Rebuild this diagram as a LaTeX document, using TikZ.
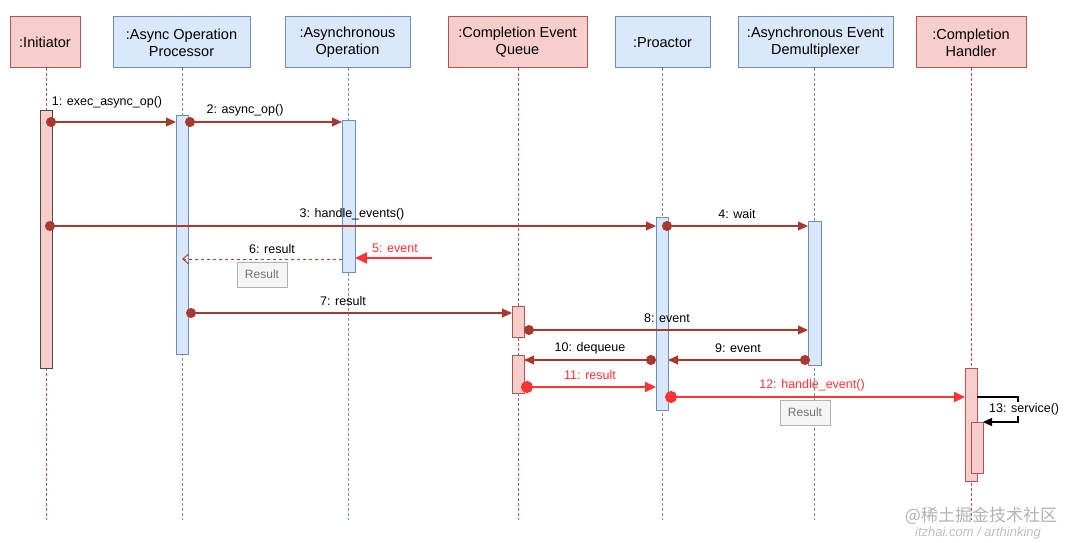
\documentclass[tikz,border=0pt]{standalone}
\usepackage{fontspec}
\setmainfont{Liberation Sans}
\newfontfamily\cjk{Noto Sans CJK SC}
\usetikzlibrary{arrows.meta}
\definecolor{rf}{HTML}{F8CECC}\definecolor{rs}{HTML}{B85450}
\definecolor{bf}{HTML}{DAE8FC}\definecolor{bs}{HTML}{6C8EBF}
\definecolor{dr}{HTML}{A8392E}\definecolor{br}{HTML}{FF3333}
\begin{document}
\begin{tikzpicture}[x=1pt,y=-1pt,
 hd/.style={draw,line width=1pt,minimum height=51pt,align=center,font=\fontsize{14.5}{17}\selectfont,inner sep=1pt},
 rh/.style={hd,fill=rf,draw=rs},bh/.style={hd,fill=bf,draw=bs},
 ll/.style={dashed,dash pattern=on 3pt off 2pt,line width=0.8pt},
 act/.style={draw,line width=0.9pt,minimum width=12pt,inner sep=0pt},
 ra/.style={act,fill=rf,draw=rs},ba/.style={act,fill=bf,draw=bs},
 msg/.style={draw=dr,line width=1.1pt,{Circle[length=10pt]}-{Triangle[length=10pt,width=9pt]}},
 bmsg/.style={draw=br,line width=2.2pt,{Circle[length=12pt]}-{Triangle[length=11pt,width=10pt]}},
 lb/.style={font=\fontsize{12.5}{14}\selectfont},
 res/.style={draw=gray!60,fill=gray!8,text=gray!90!black,font=\fontsize{12}{13}\selectfont,minimum width=50pt,minimum height=25pt,inner sep=1pt}]
\useasboundingbox (0,0) rectangle (1080,543);
\node[rh,minimum width=70pt] (h1) at (45,42.5) {:Initiator};
\node[bh,minimum width=137pt] (h2) at (181.5,42.5) {:Async Operation\\Processor};
\node[bh,minimum width=125pt] (h3) at (347.5,42.5) {:Asynchronous\\Operation};
\node[rh,minimum width=139pt] (h4) at (517.5,42.5) {:Completion Event\\Queue};
\node[bh,minimum width=95pt] (h5) at (662.5,42.5) {:Proactor};
\node[bh,minimum width=155pt] (h6) at (815.5,42.5) {:Asynchronous Event\\Demultiplexer};
\node[rh,minimum width=110pt] (h7) at (971,42.5) {:Completion\\Handler};
\foreach \x/\c in {46/rs,182/bs,348/bs,518/rs,662/bs,814/bs,971/rs}
 \draw[ll,draw=\c] (\x,68) -- (\x,520);
% activations
\node[act,fill=rf,draw=black!70,minimum height=258pt] (a1) at (46,239) {};
\node[ba,minimum height=239pt] (a2) at (182,234.5) {};
\node[ba,minimum height=152pt,minimum width=13pt] (a3) at (348.5,196) {};
\node[ra,minimum height=31pt] (a4) at (518,321.5) {};
\node[ra,minimum height=38pt] (a4b) at (518,374) {};
\node[ba,minimum height=193pt] (a5) at (662,313.5) {};
\node[ba,minimum height=144pt,minimum width=13pt] (a6) at (814.5,293) {};
\node[ra,minimum height=113pt] (a7) at (971,424.5) {};
\node[ra,minimum height=51pt] (a7b) at (977,447.5) {};
% messages
\coordinate (p1s) at (46,122); \coordinate (p1e) at (176,122);
\draw[msg] (p1s) -- (p1e); \node[lb] (l1) at (107,102) {1: exec\_async\_op()};
\coordinate (p2s) at (185,122); \coordinate (p2e) at (342,122);
\draw[msg] (p2s) -- (p2e); \node[lb] (l2) at (245,110) {2: async\_op()};
\coordinate (p3s) at (45,226); \coordinate (p3e) at (656,226);
\draw[msg] (p3s) -- (p3e); \node[lb] (l3) at (352,214) {3: handle\_events()};
\coordinate (p4s) at (662,226); \coordinate (p4e) at (808,226);
\draw[msg] (p4s) -- (p4e); \node[lb] (l4) at (737,214) {4: wait};
\coordinate (p5s) at (432,258); \coordinate (p5e) at (355,258);
\draw[draw=br,line width=1.8pt,-{Triangle[length=12pt,width=11pt]}] (p5s) -- (p5e);
\node[lb,text=br] (l5) at (395,248) {5: event};
\coordinate (p6s) at (342,259); \coordinate (p6e) at (182,259);
\draw[draw=dr,line width=0.9pt,dashed,-{Straight Barb[length=6pt,width=10pt]}] (p6s) -- (p6e);
\node[lb] (l6) at (272,249) {6: result};
\node[res] (r1) at (262,274.5) {Result};
\coordinate (p7s) at (186,313); \coordinate (p7e) at (512,313);
\draw[msg] (p7s) -- (p7e); \node[lb] (l7) at (343,301) {7: result};
\coordinate (p8s) at (524,330); \coordinate (p8e) at (808,330);
\draw[msg] (p8s) -- (p8e); \node[lb] (l8) at (667,318) {8: event};
\coordinate (p9s) at (810,360); \coordinate (p9e) at (668,360);
\draw[msg] (p9s) -- (p9e); \node[lb] (l9) at (738,348) {9: event};
\coordinate (p10s) at (656,360); \coordinate (p10e) at (524,360);
\draw[msg] (p10s) -- (p10e); \node[lb] (l10) at (590,348) {10: dequeue};
\coordinate (p11s) at (521,387); \coordinate (p11e) at (656,387);
\draw[bmsg] (p11s) -- (p11e); \node[lb,text=br] (l11) at (590,375) {11: result};
\coordinate (p12s) at (665,397); \coordinate (p12e) at (965,397);
\draw[bmsg] (p12s) -- (p12e); \node[lb,text=br] (l12) at (812,385) {12: handle\_event()};
\node[res] (r2) at (805,412.5) {Result};
\coordinate (p13a) at (977,397); \coordinate (p13b) at (1018,397);
\coordinate (p13c) at (1018,422); \coordinate (p13d) at (983,422);
\draw[line width=1.1pt,-{Triangle[length=9pt,width=8pt]}] (p13a) -- (p13b) -- (p13c) -- (p13d);
\node[lb,anchor=west,fill=white,inner sep=1pt] (l13) at (988,409) {13: service()};
\node[text=gray!60,font=\cjk\fontsize{17}{17}\selectfont] (w1) at (981,516) {@稀土掘金技术社区};
\node[text=gray!50,font=\fontsize{13}{13}\selectfont\itshape] (w2) at (978,533) {itzhai.com / arthinking};
\end{tikzpicture}
\end{document}
